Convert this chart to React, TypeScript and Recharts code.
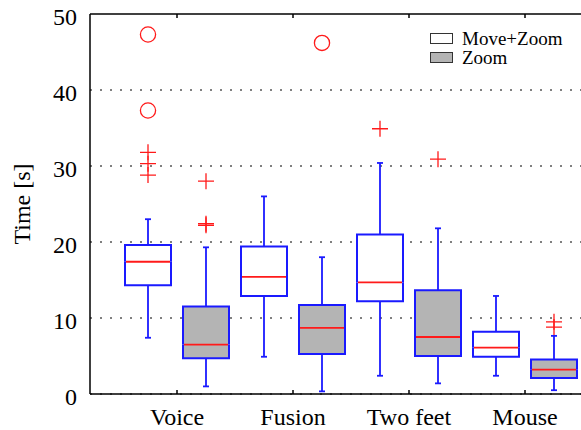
import React from "react";
import {
  Bar,
  CartesianGrid,
  ComposedChart,
  Legend,
  Scatter,
  XAxis,
  YAxis,
} from "recharts";

// data (seconds)
const categories = ["Voice", "Fusion", "Two feet", "Mouse"];

// Move+Zoom
const mzMin = [7.4, 4.9, 2.4, 2.4];
const mzQ1 = [14.3, 12.9, 12.2, 4.9];
const mzMed = [17.4, 15.4, 14.7, 6.1];
const mzQ3 = [19.6, 19.4, 21.0, 8.2];
const mzMax = [23.0, 26.0, 30.4, 12.9];
const mzMild = [[31.8, 30.3, 28.8], [], [34.9], []];
const mzExtreme = [[47.3, 37.3], [], [], []];

// Zoom
const zMin = [1.0, 0.35, 1.4, 0.5];
const zQ1 = [4.7, 5.25, 5.0, 2.1];
const zMed = [6.5, 8.7, 7.5, 3.2];
const zQ3 = [11.5, 11.7, 13.65, 4.55];
const zMax = [19.3, 18.0, 21.8, 7.65];
const zMild = [[28.0, 22.4, 22.2], [], [30.9], [9.5, 8.8]];
const zExtreme = [[], [46.2], [], []];

const yTicks = [0, 10, 20, 30, 40, 50];
const legendItems = [
  { label: "Move+Zoom", fill: "#ffffff" },
  { label: "Zoom", fill: "#b4b4b4" },
];

const BLUE = "#1a1aff";
const RED = "#ff1a1a";
const GRAY = "#b4b4b4";
const FONT =
  '"Liberation Serif", "Times New Roman", Tinos, "Nimbus Roman", "DejaVu Serif", serif';
const PAIR_SHIFT = 0.25; // each box sits a quarter category off center

// layout
const CHART_W = 612;
const CHART_H = 430;
const TOP = 14;
const X_AXIS_H = 36;
const PLOT_H = CHART_H - TOP - X_AXIS_H;

const rows = categories.map((name, i) => ({
  name,
  mzBase: mzMin[i],
  mzLowW: mzQ1[i] - mzMin[i],
  mzLowBox: mzMed[i] - mzQ1[i],
  mzUpBox: mzQ3[i] - mzMed[i],
  mzUpW: mzMax[i] - mzQ3[i],
  zBase: zMin[i],
  zLowW: zQ1[i] - zMin[i],
  zLowBox: zMed[i] - zQ1[i],
  zUpBox: zQ3[i] - zMed[i],
  zUpW: zMax[i] - zQ3[i],
}));

const toPoints = (lists: number[][], shift: number) =>
  lists.flatMap((vals, i) => vals.map((y) => ({ x: i + 1 + shift, y })));

const mildPoints = [
  ...toPoints(mzMild, -PAIR_SHIFT),
  ...toPoints(zMild, PAIR_SHIFT),
];
const extremePoints = [
  ...toPoints(mzExtreme, -PAIR_SHIFT),
  ...toPoints(zExtreme, PAIR_SHIFT),
];

const emptyShape = () => <g />;

const lowerWhisker = (p: any) => {
  const cx = p.x + p.width / 2;
  const bottom = p.y + p.height;
  return (
    <g stroke={BLUE} strokeWidth={1.8}>
      <line x1={cx} x2={cx} y1={p.y} y2={bottom} />
      <line x1={cx - 3} x2={cx + 3} y1={bottom} y2={bottom} />
    </g>
  );
};

const upperWhisker = (p: any) => {
  const cx = p.x + p.width / 2;
  return (
    <g stroke={BLUE} strokeWidth={1.8}>
      <line x1={cx} x2={cx} y1={p.y} y2={p.y + p.height} />
      <line x1={cx - 3} x2={cx + 3} y1={p.y} y2={p.y} />
    </g>
  );
};

const lowerBox = (fill: string) => (p: any) => {
  const { x, y, width, height } = p;
  return (
    <g>
      <rect x={x} y={y} width={width} height={height} fill={fill} />
      <path
        d={`M${x},${y}V${y + height}H${x + width}V${y}`}
        fill="none"
        stroke={BLUE}
        strokeWidth={2}
      />
    </g>
  );
};

const upperBox = (fill: string) => (p: any) => {
  const { x, y, width, height } = p;
  return (
    <g>
      <rect x={x} y={y} width={width} height={height} fill={fill} />
      <path
        d={`M${x},${y + height}V${y}H${x + width}V${y + height}`}
        fill="none"
        stroke={BLUE}
        strokeWidth={2}
      />
      <line
        x1={x + 1}
        x2={x + width - 1}
        y1={y + height}
        y2={y + height}
        stroke={RED}
        strokeWidth={1.8}
      />
    </g>
  );
};

const plusShape = (p: any) => (
  <path
    d={`M${p.cx - 8},${p.cy}H${p.cx + 8}M${p.cx},${p.cy - 8}V${p.cy + 8}`}
    stroke={RED}
    strokeWidth={1.3}
    fill="none"
  />
);

const circleShape = (p: any) => (
  <circle cx={p.cx} cy={p.cy} r={7.6} stroke={RED} strokeWidth={1.3} fill="none" />
);

// grid: dotted lines, except the top one which is the solid frame
const gridLine = (p: any) => {
  const isTop = Math.abs(p.y1 - TOP) < 1;
  return (
    <line
      key={p.key}
      x1={p.x1}
      x2={p.x2}
      y1={p.y1}
      y2={p.y2}
      stroke="#000"
      strokeWidth={isTop ? 1.5 : 1}
      strokeDasharray={isTop ? undefined : "2 8"}
    />
  );
};

// category tick: inward marks on bottom and top frame + label
const BottomTick = ({ x, y, payload }: any) => (
  <g>
    <line x1={x} x2={x} y1={y} y2={y - 4} stroke="#000" strokeWidth={1.5} />
    <line
      x1={x}
      x2={x}
      y1={y - PLOT_H}
      y2={y - PLOT_H + 4}
      stroke="#000"
      strokeWidth={1.5}
    />
    <text
      x={x}
      y={y + 31}
      textAnchor="middle"
      style={{ fontFamily: FONT, fontSize: 24 }}
      fill="#000"
    >
      {payload.value}
    </text>
  </g>
);

const LeftTick = ({ x, y, payload }: any) => (
  <text
    x={x}
    y={y + 11}
    textAnchor="end"
    style={{ fontFamily: FONT, fontSize: 24 }}
    fill="#000"
  >
    {payload.value}
  </text>
);

const YLabel = () => (
  <text
    x={30}
    y={204}
    transform="rotate(-90 30 204)"
    textAnchor="middle"
    style={{ fontFamily: FONT, fontSize: 24 }}
    fill="#000"
  >
    Time [s]
  </text>
);

const LegendBox = () => (
  <div style={{ fontFamily: FONT, fontSize: 19, lineHeight: "19px", color: "#000" }}>
    {legendItems.map((item) => (
      <div
        key={item.label}
        style={{ display: "flex", alignItems: "center", height: 19 }}
      >
        <span
          style={{
            display: "inline-block",
            width: 21,
            height: 9,
            background: item.fill,
            border: "1px solid #333",
            marginRight: 9,
          }}
        />
        <span>{item.label}</span>
      </div>
    ))}
  </div>
);

export default function App() {
  return (
    <div
      style={{
        position: "absolute",
        left: 0,
        top: 0,
        width: 581,
        height: 430,
        overflow: "hidden",
        background: "#fff",
        fontFamily: FONT,
      }}
    >
      <ComposedChart
        width={CHART_W}
        height={CHART_H}
        data={rows}
        margin={{ top: TOP, right: 0, bottom: 0, left: 0 }}
        barSize={46}
        barGap={12}
      >
        <CartesianGrid horizontal={gridLine} vertical={false} />
        <XAxis
          dataKey="name"
          type="category"
          interval={0}
          height={X_AXIS_H}
          padding={{ left: 29, right: 29 }}
          tickSize={0}
          tickMargin={0}
          tickLine={false}
          tick={<BottomTick />}
          axisLine={{ stroke: "#000", strokeWidth: 1.5 }}
        />
        <XAxis
          xAxisId="pts"
          type="number"
          dataKey="x"
          domain={[0.5, 4.5]}
          allowDataOverflow
          padding={{ left: 29, right: 29 }}
          hide
        />
        <YAxis
          type="number"
          domain={[0, 50]}
          ticks={yTicks}
          width={90}
          tickSize={0}
          tickMargin={13}
          tickLine={false}
          tick={<LeftTick />}
          axisLine={{ stroke: "#000", strokeWidth: 1.5 }}
          label={<YLabel />}
        />
        <YAxis
          yAxisId="pts"
          type="number"
          dataKey="y"
          domain={[0, 50]}
          allowDataOverflow
          hide
        />

        <Bar dataKey="mzBase" stackId="mz" shape={emptyShape} isAnimationActive={false} />
        <Bar dataKey="mzLowW" stackId="mz" shape={lowerWhisker} isAnimationActive={false} />
        <Bar dataKey="mzLowBox" stackId="mz" shape={lowerBox("#ffffff")} isAnimationActive={false} />
        <Bar dataKey="mzUpBox" stackId="mz" shape={upperBox("#ffffff")} isAnimationActive={false} />
        <Bar dataKey="mzUpW" stackId="mz" shape={upperWhisker} isAnimationActive={false} />

        <Bar dataKey="zBase" stackId="z" shape={emptyShape} isAnimationActive={false} />
        <Bar dataKey="zLowW" stackId="z" shape={lowerWhisker} isAnimationActive={false} />
        <Bar dataKey="zLowBox" stackId="z" shape={lowerBox(GRAY)} isAnimationActive={false} />
        <Bar dataKey="zUpBox" stackId="z" shape={upperBox(GRAY)} isAnimationActive={false} />
        <Bar dataKey="zUpW" stackId="z" shape={upperWhisker} isAnimationActive={false} />

        <Scatter
          data={mildPoints}
          xAxisId="pts"
          yAxisId="pts"
          shape={plusShape}
          isAnimationActive={false}
        />
        <Scatter
          data={extremePoints}
          xAxisId="pts"
          yAxisId="pts"
          shape={circleShape}
          isAnimationActive={false}
        />

        <Legend
          layout="vertical"
          align="center"
          verticalAlign="middle"
          wrapperStyle={{ top: 29, left: 430, width: 160, bottom: "auto", right: "auto" }}
          content={<LegendBox />}
        />
      </ComposedChart>
    </div>
  );
}
